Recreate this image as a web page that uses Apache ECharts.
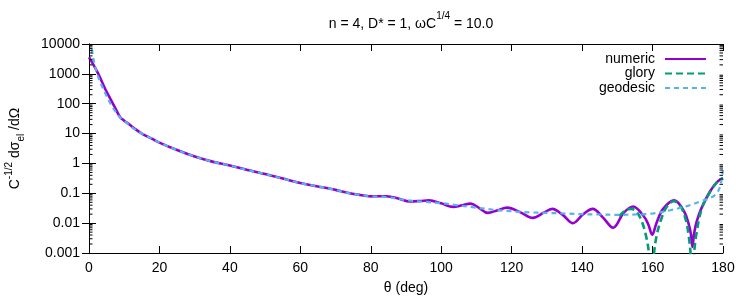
<!DOCTYPE html>
<html>
<head>
<meta charset="utf-8">
<script src="https://cdn.jsdelivr.net/npm/echarts@6/dist/echarts.min.js"></script>
<style>html,body{margin:0;padding:0;background:#fff}#c{width:750px;height:300px}</style>
</head>
<body>
<div id="c"></div>
<script>
// ---- data ----
const numericTheta = [0,1,2,3,4.5,6,7.5,8.8,10,11.5,13,15,17.8,20,25,30,35,40,45,50,55,60,65,70,74,77,80.5,84.5,88,91,94,96.5,100,103.4,106,108.3,110.8,113.2,116,118.7,122.5,126,129,131.5,134.5,137.4,140.3,143,146,148.8,151.8,154.5,157.5,158.8,159.9,161.1,163,166.2,169,170.3,170.9,171.3,171.8,172.5,173.8,176.3,178.5,180];
const numericVals  = [3600,2300,1400,820,330,150,70,36,27,20,14.5,10,6.8,5.0,2.8,1.7,1.15,0.85,0.6,0.44,0.31,0.22,0.17,0.13,0.1,0.088,0.079,0.080,0.066,0.053,0.055,0.058,0.046,0.035,0.040,0.045,0.032,0.022,0.027,0.033,0.023,0.015,0.022,0.030,0.019,0.010,0.020,0.030,0.015,0.007,0.022,0.036,0.017,0.009,0.0041,0.010,0.030,0.058,0.024,0.009,0.0042,0.0016,0.0045,0.011,0.030,0.115,0.25,0.32];

const gloryTheta = [150.5,152.5,154,155.5,157,158.2,159,159.7,160.4,161.2,162.5,164,166,168,169.5,170.3,170.8,171.3,171.8,172.4,174,176.3,178.5,180];
const gloryVals  = [0.017,0.028,0.030,0.024,0.011,0.0035,0.0009,0.00002,0.0009,0.004,0.014,0.035,0.054,0.036,0.012,0.0035,0.0009,0.00002,0.0009,0.004,0.032,0.11,0.25,0.32];

const geodesicTheta = [0.8,1.3,2,3,4.5,6,7.5,9,10.5,12,15,17.8,20,25,30,35,40,45,50,55,60,65,70,74,77,80.5,84.5,90,95,100,105,110,115,120,125,130,135,140,145,150,155,160,165,170,173.5,176.3,177.8,178.8,179.5,180];
const geodesicVals  = [6800,3000,1350,600,240,105,55,33,24,17,10,6.8,5.0,2.8,1.7,1.15,0.85,0.6,0.44,0.31,0.22,0.17,0.13,0.1,0.088,0.079,0.075,0.059,0.052,0.047,0.039,0.033,0.028,0.025,0.023,0.022,0.021,0.020,0.0195,0.019,0.0195,0.021,0.027,0.038,0.053,0.069,0.09,0.13,0.25,0.6];

const xTicks = [0,20,40,60,80,100,120,140,160,180];
const yTickLabels = ['0.001','0.01','0.1','1','10','100','1000','10000'];
const seriesNames = ['numeric','glory','geodesic'];

// minor log ticks (2..9 within each decade) — axis decoration only
const minorTickVals = [];
for (let d = -3; d < 4; d++) for (let m = 2; m <= 9; m++) minorTickVals.push([0, m * Math.pow(10, d)]);

const zip = (a, b) => a.map((t, i) => [t, b[i]]);
const FONT = '"Liberation Sans", Arial, Helvetica, sans-serif';

const chart = echarts.init(document.getElementById('c'), null, {renderer: 'canvas'});
const yLabelFmt = v => Number(Number(v).toPrecision(6)).toString();
const baseY = {
  type: 'log', logBase: 10, min: 0.001, max: 10000,
  axisLine: {show: true, lineStyle: {color: '#000', width: 1}},
  axisTick: {show: true, inside: true, length: 7, lineStyle: {color: '#000'}},
  splitLine: {show: false},
};
const baseX = {
  type: 'value', min: 0, max: 180, interval: 20,
  axisLine: {show: true, onZero: false, lineStyle: {color: '#000', width: 1}},
  axisTick: {show: true, inside: true, length: 7, lineStyle: {color: '#000'}},
  splitLine: {show: false},
};

chart.setOption({
  animation: false,
  backgroundColor: '#fff',
  textStyle: {fontFamily: FONT},
  title: {
    text: '{a|n = 4, D* = 1, ωC}{s|1/4}{a| = 10.0}',
    left: 406, top: 6, textAlign: 'center',
    textStyle: {
      fontWeight: 'normal',
      rich: {
        a: {fontSize: 14, fontFamily: FONT, fontWeight: 'normal', color: '#000', lineHeight: 20, verticalAlign: 'bottom'},
        s: {fontSize: 10, fontFamily: FONT, fontWeight: 'normal', color: '#000', lineHeight: 20, verticalAlign: 'top'}
      }
    }
  },
  legend: {
    data: seriesNames,
    orient: 'vertical', right: 38, top: 47, align: 'right',
    itemWidth: 41, itemHeight: 14, itemGap: 0.5,
    itemStyle: {opacity: 0},
    textStyle: {fontSize: 14, fontFamily: FONT, color: '#000', padding: [0, 5, 0, 0]},
    inactiveColor: '#ccc'
  },
  grid: {left: 89, right: 27, top: 44, bottom: 47, show: false, containLabel: false, outerBoundsMode: 'none'},
  xAxis: [
    Object.assign({}, baseX, {
      position: 'bottom',
      name: 'θ (deg)', nameLocation: 'middle', nameGap: 28,
      nameTextStyle: {fontSize: 14, fontFamily: FONT, color: '#000'},
      axisLabel: {show: true, margin: 8, fontSize: 14, fontFamily: FONT, color: '#000'}
    }),
    Object.assign({}, baseX, {position: 'top', axisLabel: {show: false}})
  ],
  yAxis: [
    Object.assign({}, baseY, {
      position: 'left',
      name: '{a|C}{s|-1/2}{a| dσ}{b|el}{a| /dΩ}',
      nameLocation: 'middle', nameGap: 63, nameRotate: 90,
      nameTextStyle: {
        rich: {
          a: {fontSize: 14, fontFamily: FONT, color: '#000', lineHeight: 22, verticalAlign: 'middle'},
          s: {fontSize: 10, fontFamily: FONT, color: '#000', lineHeight: 22, verticalAlign: 'top'},
          b: {fontSize: 10, fontFamily: FONT, color: '#000', lineHeight: 22, verticalAlign: 'bottom'}
        }
      },
      axisLabel: {show: true, margin: 9, fontSize: 14, fontFamily: FONT, color: '#000', formatter: yLabelFmt}
    }),
    Object.assign({}, baseY, {position: 'right', axisLabel: {show: false}})
  ],
  series: [
    {
      name: 'numeric', type: 'line', data: zip(numericTheta, numericVals),
      showSymbol: false, symbol: 'none', smooth: 0.35, clip: true,
      lineStyle: {color: '#9400d3', width: 2.6, type: 'solid'},
      itemStyle: {color: '#9400d3'}, z: 2
    },
    {
      name: 'glory', type: 'line', data: zip(gloryTheta, gloryVals),
      showSymbol: false, symbol: 'none', smooth: 0.35, clip: true,
      lineStyle: {color: '#009e73', width: 2.6, type: [7, 4]},
      itemStyle: {color: '#009e73'}, z: 3
    },
    {
      name: 'geodesic', type: 'line', data: zip(geodesicTheta, geodesicVals),
      showSymbol: false, symbol: 'none', smooth: 0.35, clip: true,
      lineStyle: {color: '#56b4e9', width: 2.2, type: [5, 4]},
      itemStyle: {color: '#56b4e9'}, z: 4
    },
    {
      name: 'minorTicks', type: 'custom', data: minorTickVals, silent: true, z: 5,
      clip: false,
      renderItem: (params, api) => {
        const p = api.coord([0, api.value(1)]);
        const cs = params.coordSys;
        return {
          type: 'group',
          children: [
            {type: 'line', shape: {x1: cs.x, y1: p[1], x2: cs.x + 3.5, y2: p[1]}, style: {stroke: '#000', lineWidth: 1}},
            {type: 'line', shape: {x1: cs.x + cs.width, y1: p[1], x2: cs.x + cs.width - 3.5, y2: p[1]}, style: {stroke: '#000', lineWidth: 1}}
          ]
        };
      }
    }
  ]
});
</script>
</body>
</html>
